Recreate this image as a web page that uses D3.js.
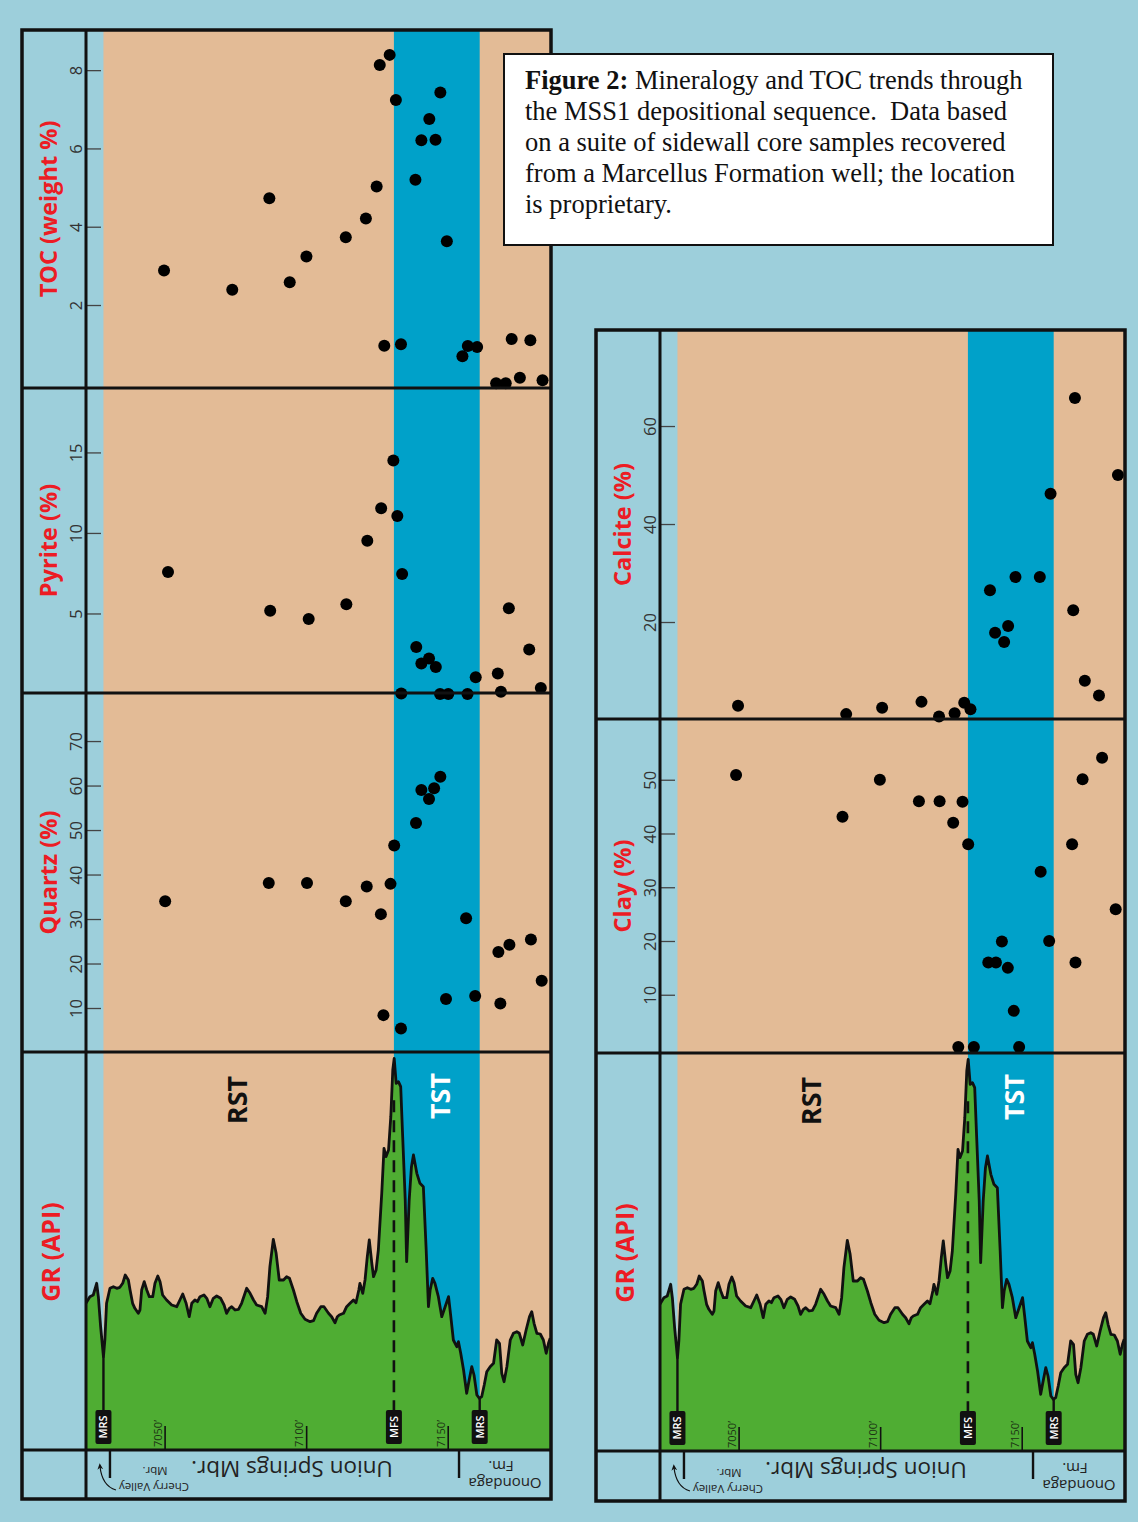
<!DOCTYPE html>
<html>
<head>
<meta charset="utf-8">
<script src="https://cdn.jsdelivr.net/npm/d3@7"></script>
<style>
  body { margin: 0; background: #9dcfdb; }
  svg { display: block; }
</style>
</head>
<body>
<svg id="chart"></svg>
<script>
const W = 1138, H = 1522;

// sidewall core samples: [depth (ft), value]
const toc = [
  [7049.8, 2.88], [7073.9, 2.39], [7087.0, 4.73], [7094.2, 2.58], [7100.1, 3.24],
  [7114.0, 3.73], [7121.1, 4.21], [7124.9, 5.03], [7126.0, 8.13], [7129.5, 8.39],
  [7127.6, 0.96], [7131.7, 7.24], [7133.5, 1.0], [7147.4, 7.43], [7143.5, 6.75],
  [7140.7, 6.21], [7145.7, 6.22], [7138.6, 5.2], [7149.7, 3.63], [7155.2, 0.69],
  [7157.1, 0.95], [7160.4, 0.93], [7172.6, 1.13], [7179.2, 1.10], [7167.1, 0.0],
  [7170.5, 0.0], [7175.5, 0.14], [7183.5, 0.08]
];
const pyrite = [
  [7051.2, 7.58], [7087.3, 5.17], [7100.9, 4.66], [7114.2, 5.57], [7121.6, 9.52],
  [7126.5, 11.53], [7130.8, 14.5], [7132.2, 11.05], [7133.9, 7.45], [7138.9, 2.92],
  [7140.7, 1.89], [7143.4, 2.2], [7145.8, 1.67], [7133.6, 0.03], [7147.3, 0.0],
  [7150.2, 0.0], [7157.0, 0.0], [7159.9, 1.04], [7167.7, 1.27], [7168.8, 0.14],
  [7171.6, 5.33], [7178.8, 2.76], [7182.9, 0.37]
];
const quartz = [
  [7050.2, 34.0], [7086.8, 38.1], [7100.3, 38.1], [7114.0, 34.0], [7121.4, 37.3],
  [7126.4, 31.1], [7129.8, 37.9], [7131.1, 46.5], [7127.3, 8.4], [7133.5, 5.4],
  [7138.8, 51.6], [7140.7, 59.0], [7143.4, 57.0], [7145.2, 59.4], [7147.4, 62.0],
  [7149.4, 12.0], [7156.5, 30.2], [7159.7, 12.7], [7167.9, 22.6], [7171.8, 24.2],
  [7179.4, 25.4], [7168.6, 11.0], [7183.2, 16.1]
];
const calcite = [
  [7049.8, 2.9], [7088.0, 1.2], [7100.7, 2.5], [7114.6, 3.7], [7120.8, 0.7],
  [7126.3, 1.4], [7129.7, 3.5], [7131.9, 2.2], [7138.8, 26.5], [7140.6, 17.8],
  [7143.8, 15.9], [7145.2, 19.2], [7147.8, 29.2], [7156.4, 29.2], [7160.2, 46.2],
  [7168.2, 22.4], [7168.8, 65.7], [7172.3, 8.0], [7177.3, 5.0], [7184.0, 50.0]
];
const clay = [
  [7049.1, 50.9], [7086.7, 43.1], [7099.9, 50.0], [7113.7, 46.0], [7121.0, 46.0],
  [7125.8, 42.0], [7129.1, 45.9], [7131.1, 38.0], [7127.6, 0.3], [7133.1, 0.3],
  [7138.2, 16.0], [7140.9, 16.0], [7143.0, 19.9], [7145.1, 15.0], [7147.2, 7.0],
  [7149.1, 0.3], [7156.7, 32.9], [7159.7, 20.0], [7167.8, 38.0], [7169.0, 16.0],
  [7171.5, 50.1], [7178.4, 54.1], [7183.2, 25.9]
];

// gamma ray log: [depth (ft), API]
const gr = [
  [7022.2,146.7],[7023.6,153.3],[7024.8,155],[7026.0,166.7],[7026.6,153.3],[7027.4,123.3],[7028.4,93.3],
  [7028.9,110],[7029.5,146.7],[7030.7,161.7],[7031.9,163.3],[7033.1,161.7],[7034.2,162.7],[7035.2,166.7],
  [7036.1,175],[7037.2,170],[7037.8,160],[7038.7,146.7],[7039.5,141.7],[7040.7,136.7],[7041.3,140],
  [7041.9,160],[7042.8,168.3],[7043.7,160],[7044.6,153.3],[7045.8,153.3],[7046.6,166.7],[7047.6,174],
  [7048.4,168.3],[7049.3,155],[7050.7,150],[7052.5,145],[7054.3,143.3],[7055.4,150],[7056.4,156],
  [7057.6,146.7],[7058.7,133.3],[7059.6,146.7],[7060.7,150],[7061.6,148.3],[7062.5,153.3],[7063.9,155],
  [7064.9,151.7],[7066.0,143.3],[7067.2,151.7],[7068.4,154],[7069.8,151.7],[7071.0,145],[7071.9,136.7],
  [7072.9,141.7],[7073.7,143.3],[7074.9,140],[7076.1,140.7],[7077.2,146.7],[7079.0,161.7],[7080.2,156.7],
  [7081.4,150],[7082.5,145],[7084.3,143.3],[7085.5,136.7],[7086.4,153.3],[7087.2,183.3],[7088.4,210.7],
  [7089.4,196.7],[7090.5,170],[7092.0,170],[7093.1,173.3],[7094.1,171.7],[7095.5,160],[7096.7,148.3],
  [7098.1,136.7],[7099.6,130.7],[7101.4,128.3],[7102.6,129.3],[7103.7,136.7],[7105.2,143.3],[7106.3,143.3],
  [7107.9,136.7],[7109.0,133.3],[7110.2,127.3],[7111.0,133.3],[7111.7,135],[7113.2,136.7],[7114.3,143.3],
  [7115.5,146.7],[7116.7,150],[7117.6,147.3],[7118.6,160],[7119.0,166.7],[7120.0,156.7],[7120.8,170],
  [7121.6,193.3],[7122.3,210],[7123.2,186.7],[7123.8,173.3],[7124.7,180],[7125.5,200],[7126.7,256.7],
  [7127.5,301.7],[7128.2,293.3],[7129.1,300],[7129.9,333.3],[7130.6,380],[7131.1,391.7],[7131.8,366.7],
  [7132.6,368.3],[7133.4,363.3],[7134.1,313.3],[7135.0,250],[7135.5,188.3],[7136.4,250],[7137.2,283.3],
  [7137.9,295],[7139.1,276.7],[7140.2,266.7],[7141.4,263.3],[7142.4,200],[7143.2,143.3],[7143.8,160],
  [7144.7,171.7],[7145.5,166.7],[7146.7,153.3],[7147.9,133.3],[7149.1,143.3],[7150.3,153.3],[7151.1,133.3],
  [7152.0,110],[7153.2,103.3],[7153.8,108.3],[7154.6,96.7],[7155.6,80],[7156.7,56.7],[7157.7,71.7],
  [7158.5,83.3],[7159.3,75],[7160.3,55],[7161.2,51.7],[7162.0,53.3],[7162.9,65],[7163.8,78.3],
  [7165.0,83.3],[7166.2,86.7],[7167.3,110],[7168.3,106.7],[7169.1,76.7],[7169.9,68.3],[7170.9,83.3],
  [7172.1,110],[7173.2,116.7],[7174.4,118.3],[7175.3,116.7],[7176.5,105],[7177.7,120],[7178.9,133.3],
  [7179.7,138.3],[7180.5,126.7],[7181.5,116.7],[7182.7,116],[7183.8,110],[7184.8,96.7],[7185.6,106.7],
  [7186.2,111.7]
];

const surfaces = [
  { name: "MRS", depth: 7028.4 },
  { name: "MFS", depth: 7131.0 },
  { name: "MRS", depth: 7161.3 }
];
const formationTops = [7030.7, 7154.0];
const depthTicks = [7050, 7100, 7150];
const tocTicks = [2, 4, 6, 8];
const pyriteTicks = [5, 10, 15];
const quartzTicks = [10, 20, 30, 40, 50, 60, 70];
const calciteTicks = [20, 40, 60];
const clayTicks = [10, 20, 30, 40, 50];

const captionLines = [
  ["Figure 2:", " Mineralogy and TOC trends through"],
  ["", "the MSS1 depositional sequence.\u00a0 Data based"],
  ["", "on a suite of sidewall core samples recovered"],
  ["", "from a Marcellus Formation well; the location"],
  ["", "is proprietary."]
];

const C = {
  lightBlue: "#9dcfdb",
  tan: "#e3bb96",
  tst: "#00a1c9",
  green: "#4fad33",
  red: "#ec1c24"
};
const SANS = "'Open Sans', 'Noto Sans', sans-serif";

const svg = d3.select("#chart").attr("width", W).attr("height", H);
svg.append("rect").attr("width", W).attr("height", H).attr("fill", C.lightBlue);

const defs = svg.append("defs");
defs.append("marker")
  .attr("id", "arrow").attr("viewBox", "0 0 10 10")
  .attr("refX", 5).attr("refY", 5)
  .attr("markerWidth", 6).attr("markerHeight", 6)
  .attr("orient", "auto-start-reverse")
  .append("path").attr("d", "M0,1 L9,5 L0,9 L3,5 Z").attr("fill", "#111");

const panels = [
  {
    id: "L", x0: 22, top: 30, grTop: 1052, grBottom: 1450, bottom: 1499,
    rows: [
      { label: "TOC (weight %)", data: toc, ticks: tocTicks, domain: [0, 9], range: [383.3, 31], y0: 30, y1: 388 },
      { label: "Pyrite (%)", data: pyrite, ticks: pyriteTicks, domain: [0, 19], range: [694, 388], y0: 388, y1: 693 },
      { label: "Quartz (%)", data: quartz, ticks: quartzTicks, domain: [0, 80.8], range: [1052.5, 693], y0: 693, y1: 1052 }
    ]
  },
  {
    id: "R", x0: 596, top: 330, grTop: 1053, grBottom: 1451, bottom: 1501,
    rows: [
      { label: "Calcite (%)", data: calcite, ticks: calciteTicks, domain: [0, 79.6], range: [720, 330], y0: 330, y1: 719 },
      { label: "Clay (%)", data: clay, ticks: clayTicks, domain: [0, 61.3], range: [1048.5, 719], y0: 719, y1: 1053 }
    ]
  }
];

function valueAt(depth) {
  const i = d3.bisector(d => d[0]).center(gr, depth);
  return gr[i][1];
}

function drawPanel(p) {
  const g = svg.append("g").attr("class", "panel-" + p.id);
  const left = p.x0, right = p.x0 + 529, axisX = p.x0 + 64;
  const x = d3.scaleLinear().domain([7050, 7150]).range([p.x0 + 142.6, p.x0 + 425.7]);
  const yGR = d3.scaleLinear().domain([0, 400]).range([p.grBottom, p.grBottom - 400]);
  const mrs1 = surfaces[0].depth, mfs = surfaces[1].depth, mrs2 = surfaces[2].depth;

  // systems tract backgrounds
  g.append("rect").attr("x", x(mrs1)).attr("y", p.top)
    .attr("width", right - x(mrs1)).attr("height", p.grBottom - p.top).attr("fill", C.tan);
  g.append("rect").attr("x", x(mfs)).attr("y", p.top)
    .attr("width", x(mrs2) - x(mfs)).attr("height", p.grBottom - p.top).attr("fill", C.tst);

  // mineral / TOC rows
  p.rows.forEach(row => {
    const y = d3.scaleLinear().domain(row.domain).range(row.range);
    g.append("g").selectAll("circle").data(row.data).join("circle")
      .attr("cx", d => x(d[0])).attr("cy", d => y(d[1])).attr("r", 6).attr("fill", "#000");

    const axis = d3.axisRight(y).tickValues(row.ticks).tickSize(15).tickFormat(d3.format("d"));
    const ag = g.append("g").attr("transform", `translate(${axisX},0)`).call(axis);
    ag.select(".domain").remove();
    ag.selectAll(".tick line").attr("stroke", "#444").attr("stroke-width", 1.3);
    ag.selectAll(".tick text")
      .attr("x", 0).attr("dy", 0)
      .attr("transform", "translate(-4,0) rotate(-90)")
      .attr("text-anchor", "middle").attr("fill", "#333")
      .style("font-family", SANS).style("font-size", "16.5px");

    g.append("text")
      .attr("transform", `translate(${p.x0 + 35},${(row.y0 + row.y1) / 2}) rotate(-90)`)
      .attr("text-anchor", "middle").attr("fill", C.red)
      .style("font-family", SANS).style("font-size", "23.5px").style("font-weight", 700)
      .text(row.label);
  });

  // gamma ray log
  const clipId = "clip-" + p.id;
  defs.append("clipPath").attr("id", clipId).append("rect")
    .attr("x", axisX).attr("y", p.grTop).attr("width", right - axisX).attr("height", p.grBottom - p.grTop);
  const area = d3.area().x(d => x(d[0])).y0(p.grBottom).y1(d => yGR(d[1]));
  const line = d3.line().x(d => x(d[0])).y(d => yGR(d[1]));
  const lg = g.append("g").attr("clip-path", `url(#${clipId})`);
  lg.append("path").datum(gr).attr("d", area).attr("fill", C.green);
  lg.append("path").datum(gr).attr("d", line).attr("fill", "none")
    .attr("stroke", "#111").attr("stroke-width", 2.8).attr("stroke-linejoin", "round");

  const labelTop = p.grBottom - 40, labelBot = p.grBottom - 6;
  // surface lines
  g.append("line").attr("x1", x(mfs)).attr("x2", x(mfs))
    .attr("y1", yGR(d3.max(gr, d => d[1])) + 42).attr("y2", labelTop)
    .attr("stroke", "#111").attr("stroke-width", 2.6).attr("stroke-dasharray", "12,8");
  [mrs1, mrs2].forEach(dep => {
    g.append("line").attr("x1", x(dep)).attr("x2", x(dep))
      .attr("y1", yGR(valueAt(dep))).attr("y2", labelTop)
      .attr("stroke", "#111").attr("stroke-width", 2.4);
  });
  surfaces.forEach(s => {
    const sg = g.append("g").attr("transform", `translate(${x(s.depth)},${(labelTop + labelBot) / 2})`);
    sg.append("rect").attr("x", -8).attr("y", -(labelBot - labelTop) / 2)
      .attr("width", 16).attr("height", labelBot - labelTop).attr("rx", 2).attr("fill", "#111");
    sg.append("text").attr("transform", "rotate(-90)").attr("text-anchor", "middle")
      .attr("dy", "0.36em").attr("fill", "#fff")
      .style("font-family", SANS).style("font-size", "11px").style("font-weight", 600)
      .text(s.name);
  });

  // depth ticks
  const dAxis = d3.axisTop(x).tickValues(depthTicks).tickSize(24).tickFormat(d => d + "\u2019");
  const dg = g.append("g").attr("transform", `translate(0,${p.grBottom})`).call(dAxis);
  dg.select(".domain").remove();
  dg.selectAll(".tick line").attr("stroke", "#111").attr("stroke-width", 1.6);
  dg.selectAll(".tick text")
    .attr("y", 0).attr("dy", 0)
    .attr("transform", "translate(-3.5,-3) rotate(-90)")
    .attr("text-anchor", "start").attr("fill", "#1c3314")
    .style("font-family", SANS).style("font-size", "11px");

  // systems tract names
  g.append("text")
    .attr("transform", `translate(${p.x0 + 225},${p.grTop + 48}) rotate(-90)`)
    .attr("text-anchor", "middle").attr("fill", "#111")
    .style("font-family", SANS).style("font-size", "27px").style("font-weight", 700)
    .text("RST");
  g.append("text")
    .attr("transform", `translate(${(x(mfs) + x(mrs2)) / 2 + 13},${p.grTop + 44}) rotate(-90)`)
    .attr("text-anchor", "middle").attr("fill", "#fff")
    .style("font-family", SANS).style("font-size", "27px").style("font-weight", 700)
    .text("TST");
  g.append("text")
    .attr("transform", `translate(${p.x0 + 38},${(p.grTop + p.grBottom) / 2 + 1}) rotate(-90)`)
    .attr("text-anchor", "middle").attr("fill", C.red)
    .style("font-family", SANS).style("font-size", "25px").style("font-weight", 700)
    .text("GR (API)");

  // formation strip (upside down)
  const stripMid = (p.grBottom + p.bottom) / 2;
  const flip = (tx, ty, size, txt) => g.append("text")
    .attr("transform", `translate(${tx},${ty}) rotate(180)`)
    .attr("text-anchor", "middle").attr("dy", "0.35em").attr("fill", "#222")
    .style("font-family", SANS).style("font-size", size + "px").text(txt);
  flip(p.x0 + 270, stripMid - 6, 22.5, "Union Springs Mbr.");
  flip(p.x0 + 132, stripMid + 13, 11.5, "Cherry Valley");
  flip(p.x0 + 133, stripMid - 3, 11.5, "Mbr.");
  flip(p.x0 + 483, stripMid + 9, 15, "Onondaga");
  flip(p.x0 + 479, stripMid - 8, 15, "Fm.");
  formationTops.forEach(dep => {
    g.append("line").attr("x1", x(dep)).attr("x2", x(dep))
      .attr("y1", p.grBottom).attr("y2", p.grBottom + 28)
      .attr("stroke", "#111").attr("stroke-width", 2.4);
  });
  g.append("path")
    .attr("d", `M${x(formationTops[0]) + 6},${p.grBottom + 40} Q${x(formationTops[0]) - 8},${p.grBottom + 36} ${x(formationTops[0]) - 10},${p.grBottom + 16}`)
    .attr("fill", "none").attr("stroke", "#111").attr("stroke-width", 1.2)
    .attr("marker-end", "url(#arrow)");

  // frame and row dividers
  const frameStroke = "#111";
  p.rows.slice(1).forEach(row => {
    g.append("line").attr("x1", left).attr("x2", right).attr("y1", row.y0).attr("y2", row.y0)
      .attr("stroke", frameStroke).attr("stroke-width", 3);
  });
  [p.grTop, p.grBottom].forEach(yy => {
    g.append("line").attr("x1", left).attr("x2", right).attr("y1", yy).attr("y2", yy)
      .attr("stroke", frameStroke).attr("stroke-width", 3);
  });
  g.append("line").attr("x1", axisX).attr("x2", axisX).attr("y1", p.top).attr("y2", p.bottom)
    .attr("stroke", frameStroke).attr("stroke-width", 3);
  g.append("rect").attr("x", left).attr("y", p.top)
    .attr("width", right - left).attr("height", p.bottom - p.top)
    .attr("fill", "none").attr("stroke", frameStroke).attr("stroke-width", 3.5);
}

panels.forEach(drawPanel);

// caption box
const cap = svg.append("g");
cap.append("rect").attr("x", 504).attr("y", 54).attr("width", 549).attr("height", 191)
  .attr("fill", "#fff").attr("stroke", "#111").attr("stroke-width", 2);
captionLines.forEach((ln, i) => {
  const t = cap.append("text").attr("x", 525).attr("y", 89 + i * 31)
    .style("font-family", "'Liberation Serif', 'Times New Roman', serif").style("font-size", "26.5px")
    .attr("fill", "#111");
  if (ln[0]) t.append("tspan").style("font-weight", 700).text(ln[0]);
  t.append("tspan").text(ln[1]);
});
</script>
</body>
</html>
